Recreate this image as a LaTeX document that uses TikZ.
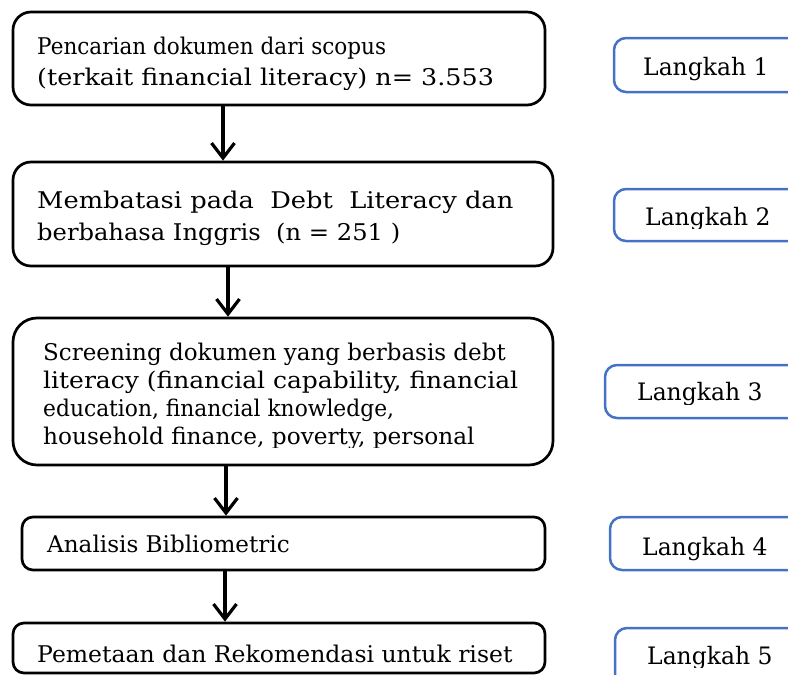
\documentclass[tikz,border=0pt]{standalone}
\usepackage{fontspec}
\setmainfont{DejaVu Serif}
\usetikzlibrary{arrows.meta}
\definecolor{blueline}{HTML}{4472C4}
\newcommand{\sx}[2]{\scalebox{#1}[1]{#2}}
\begin{document}
\begin{tikzpicture}[x=1pt,y=-1pt,
  flowbox/.style={draw=black, line width=2.7pt, inner sep=0pt},
  stepbox/.style={draw=blueline, line width=2.5pt, rounded corners=12pt, inner sep=0pt},
  txt/.style={inner sep=0pt, anchor=base west, font=\fontsize{23}{27}\selectfont},
  steptxt/.style={inner sep=0pt, anchor=base west, font=\fontsize{24}{28}\selectfont},
  arr/.style={line width=3.2pt, -{Straight Barb[length=15pt,width=23pt,line width=3.2pt]}}]
\useasboundingbox (0,0) rectangle (788,675);
\clip (0,0) rectangle (788,675);
% flow boxes
\node[flowbox, rounded corners=18pt, minimum width=532pt, minimum height=93pt] (b1) at (279,58.5) {};
\node[flowbox, rounded corners=18pt, minimum width=540pt, minimum height=104pt] (b2) at (283,214) {};
\node[flowbox, rounded corners=24pt, minimum width=540pt, minimum height=147pt] (b3) at (283,391.5) {};
\node[flowbox, rounded corners=11pt, minimum width=523pt, minimum height=53pt] (b4) at (283.5,543.5) {};
\node[flowbox, rounded corners=11pt, minimum width=532pt, minimum height=50pt] (b5) at (279,648) {};
% step boxes
\node[stepbox, minimum width=200pt, minimum height=54pt] (s1) at (714,65) {};
\node[stepbox, minimum width=200pt, minimum height=52pt] (s2) at (714,215) {};
\node[stepbox, minimum width=200pt, minimum height=53pt] (s3) at (705,391.5) {};
\node[stepbox, minimum width=200pt, minimum height=53pt] (s4) at (710,543.5) {};
\node[stepbox, minimum width=200pt, minimum height=60pt] (s5) at (715,658) {};
% texts
\begin{scope}
\clip (13,12) rectangle (545,89);
\node[txt] (t1a) at (37,54) {\sx{0.937}{Pencarian dokumen dari scopus}};
\node[txt] (t1b) at (37,85) {\sx{1.105}{(terkait financial literacy) n= 3.553}};
\end{scope}
\node[txt] (t2a) at (37,208) {\sx{1.119}{Membatasi pada\ \ Debt\ \ Literacy dan}};
\node[txt] (t2b) at (37,240) {\sx{1.052}{berbahasa Inggris\ \ (n = 251 )}};
\begin{scope}
\clip (13,318) rectangle (553,447);
\node[txt] (t3a) at (43,360) {\sx{1.0}{Screening dokumen yang berbasis debt}};
\node[txt] (t3b) at (43,388) {\sx{1.086}{literacy (financial capability, financial}};
\node[txt] (t3c) at (43,416) {\sx{0.947}{education, financial knowledge,}};
\node[txt] (t3d) at (43,444) {\sx{1.009}{household finance, poverty, personal}};
\end{scope}
\node[txt] (t4) at (47,552) {\sx{1.004}{Analisis Bibliometric}};
\node[txt] (t5) at (37,662) {\sx{1.023}{Pemetaan dan Rekomendasi untuk riset}};
\node[steptxt] (l1) at (643,75) {\sx{0.977}{Langkah 1}};
\begin{scope}
\clip (600,180) rectangle (788,228);
\node[steptxt] (l2) at (645,225) {\sx{0.977}{Langkah 2}};
\end{scope}
\begin{scope}
\clip (600,360) rectangle (788,404);
\node[steptxt] (l3) at (637,400) {\sx{0.977}{Langkah 3}};
\end{scope}
\node[steptxt] (l4) at (642,555) {\sx{0.977}{Langkah 4}};
\begin{scope}
\clip (600,620) rectangle (788,667);
\node[steptxt] (l5) at (647,664) {\sx{0.977}{Langkah 5}};
\end{scope}
% arrows
\coordinate (a1) at (223,0);
\coordinate (a2) at (228,0);
\coordinate (a3) at (226,0);
\coordinate (a4) at (225,0);
\draw[arr] (a1 |- b1.south) -- (a1 |- b2.north);
\draw[arr] (a2 |- b2.south) -- (a2 |- b3.north);
\draw[arr] (a3 |- b3.south) -- (a3 |- b4.north);
\draw[arr] (a4 |- b4.south) -- (a4 |- b5.north);
\end{tikzpicture}
\end{document}
